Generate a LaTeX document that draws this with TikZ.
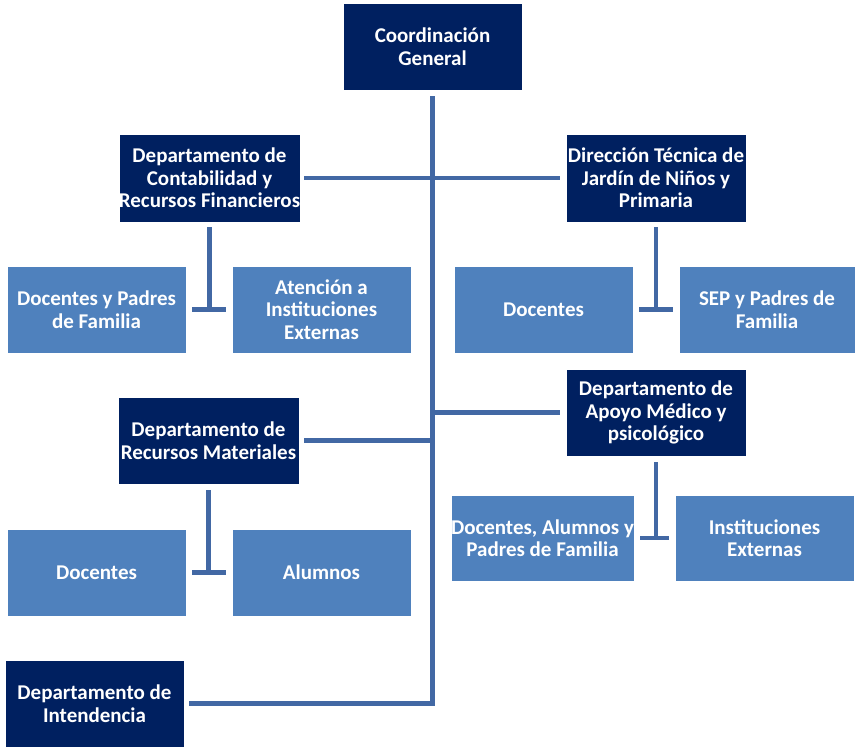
\documentclass[tikz,border=0pt]{standalone}
\usepackage{fontspec}
\setmainfont{Carlito}
\definecolor{headblue}{RGB}{0,32,96}
\definecolor{unitblue}{RGB}{79,129,189}
\definecolor{linkblue}{RGB}{66,104,164}
\tikzset{
  box/.style={rectangle, draw=white, line width=0.6pt, minimum width=179pt, minimum height=87pt,
    inner sep=0pt, align=center, text=white,
    font=\fontsize{21}{22.5}\selectfont\bfseries},
  head/.style={box, fill=headblue},
  unit/.style={box, fill=unitblue},
  link/.style={draw=linkblue, line width=4.5pt}
}
\begin{document}
\begin{tikzpicture}[x=1pt,y=-1pt]
\useasboundingbox (0,0) rectangle (855,747);

% upper management
\node[head] (coord)  at (432.5,46.5) {Coordinación\\General};
\node[head, minimum width=181pt, minimum height=88pt] (contab) at (209.5,178) {Departamento de\\Contabilidad y\\Recursos Financieros};
\node[head, minimum width=180pt, minimum height=88pt] (direc)  at (656,178) {Dirección Técnica de\\Jardín de Niños y\\Primaria};
\node[head, minimum width=181pt] (recmat) at (208.5,440.5) {Departamento de\\Recursos Materiales};
\node[head, minimum width=180pt] (apoyo)  at (656,412.5) {Departamento de\\Apoyo Médico y\\psicológico};
\node[head] (intend) at (94.5,703.5) {Departamento de\\Intendencia};

% units served
\node[unit] (dpf)   at (96.5,309.5)  {Docentes y Padres\\de Familia};
\node[unit] (atenc) at (321.5,309.5) {Atención a\\Instituciones\\Externas};
\node[unit] (docr)  at (543.5,309.5) {Docentes};
\node[unit, minimum width=176pt] (sep) at (767,309.5) {SEP y Padres de\\Familia};
\node[unit] (docl)  at (96.5,572.5)  {Docentes};
\node[unit] (alum)  at (321.5,572.5) {Alumnos};
\node[unit, minimum height=86pt] (dap)  at (542.5,538) {Docentes, Alumnos y\\Padres de Familia};
\node[unit, minimum height=86pt] (inst) at (764.5,538) {Instituciones\\Externas};

% main trunk
\coordinate (ttop) at ([yshift=-6pt]coord.south);
\coordinate (tend) at ([xshift=5pt]intend.east);
\draw[link] (ttop) |- (tend);

% branches off the trunk
\draw[link] ([xshift=4pt]contab.east) -- ([xshift=-6pt]direc.west);
\draw[link] ([xshift=5pt]recmat.east) -- (recmat.east -| ttop);
\draw[link] (apoyo.west -| ttop) -- ([xshift=-6pt]apoyo.west);

% sub-branches
\draw[link] ([yshift=-5pt]contab.south) -- (contab.south |- dpf.east);
\draw[link] ([xshift=6pt]dpf.east) -- ([xshift=-6pt]atenc.west);
\draw[link] ([yshift=-5pt]direc.south) -- (direc.south |- docr.east);
\draw[link] ([xshift=6pt]docr.east) -- ([xshift=-6pt]sep.west);
\draw[link] ([yshift=-6pt]recmat.south) -- (recmat.south |- docl.east);
\draw[link] ([xshift=6pt]docl.east) -- ([xshift=-6pt]alum.west);
\draw[link] ([yshift=-6pt]apoyo.south) -- (apoyo.south |- dap.east);
\draw[link] ([xshift=6pt]dap.east) -- ([xshift=-6pt]inst.west);
\end{tikzpicture}
\end{document}
